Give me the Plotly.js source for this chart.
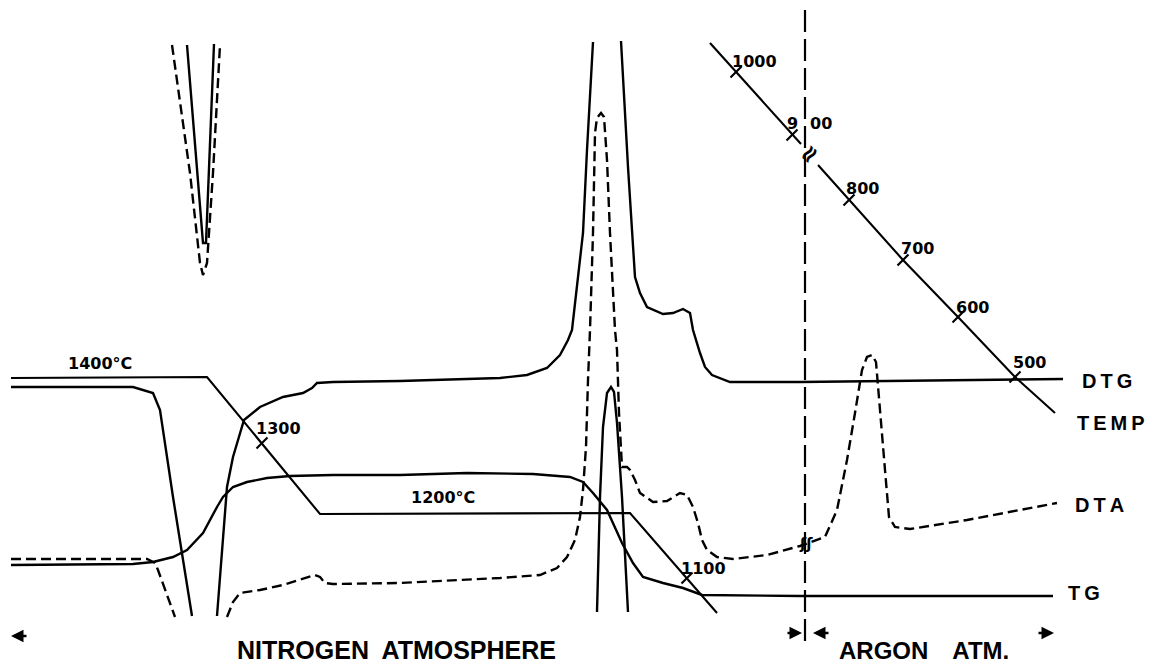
<!DOCTYPE html>
<html>
<head>
<meta charset="utf-8">
<script src="https://cdn.plot.ly/plotly-3.0.1.min.js"></script>
<style>html,body{margin:0;padding:0;background:#fff;}#chart{width:1152px;height:666px;}</style>
</head>
<body>
<div id="chart"></div>
<script>
// ---- DATA (time axis left→right, signal axis top→bottom) ----
// TG (solid)
const tgX = [11,133,153,173,187,203,217,223,233,247,267,290,333,400,467,533,570,583,593,607,622,633,643,663,683,702,800,1053];
const tgY = [565,564,562,557,550,533,507,497,487,482,478,476,475,475,473,474,477,482,493,510,543,563,577,583,588,595,596,596];

// DTG (solid), null = goes off chart
const dtgX = [11,133,153,160,173,192,null,217,227,233,244,260,283,303,312,317,333,400,500,527,547,560,568,572,580,583,587,593,null,621,628,635,640,647,663,673,683,690,693,700,705,712,730,800,1063];
const dtgY = [387,387,393,410,497,616,null,616,487,457,420,407,397,393,388,383,382,381,378,375,368,355,340,330,260,233,150,42,null,41,167,277,293,307,314,313,309,313,330,353,367,375,382,382,379];
// DTG wrapped-around spike (top left)
const dtgSpikeX = [187,203,206,214];
const dtgSpikeY = [45,243,243,44];
// Secondary sharp solid peak
const peakX = [597,600,603,607,611,614,617,622,628];
const peakY = [612,497,427,393,387,392,423,497,612];

// DTA (dashed)
const dtaX = [11,147,155,158,175,null,227,233,240,260,283,300,315,320,325,333,400,500,540,557,567,575,580,583,586,588,590,593,595,597,601,604,607,610,615,617,619,622,627,630,635,640,653,667,680,687,693,698,702,707,717,733,767,800,808,825,837,847,855,862,867,872,876,880,885,889,895,910,967,1057];
const dtaY = [559,559,563,570,617,null,617,602,593,590,585,580,575,577,583,584,583,578,575,568,557,540,517,490,447,380,330,233,133,118,113,117,160,233,330,350,413,467,467,470,480,493,502,501,493,495,507,523,540,550,557,559,555,546,543,537,510,460,413,370,357,355,362,413,470,517,527,529,520,503];
// DTA wrapped-around spike (top left)
const dtaSpikeX = [172,190,200,203,207,213,220];
const dtaSpikeY = [45,173,263,275,263,173,45];

// Temperature programme (solid), Nitrogen part
const tempNX = [11,207,320,630,717];
const tempNY = [378,377,514,513,613];
// Temperature programme, Argon part (broken line)
const tempAX = [710,736,792,801,null,818,849,903,958,1015,1055];
const tempAY = [43,72,135,144,null,165,200,260,317,377,413];

// Temperature tick marks and labels
const tickX = [262,687,736,792,849,903,958,1015];
const tickY = [443,578,72,135,200,260,317,377];
const tempLabels = ["1400°C","1300","1200°C","1100","1000","9","00","800","700","600","500"];
const tempLabelX = [100,278,443,703,754,792,821,862,917,972,1029];
const tempLabelY = [363,428,497,568,61,123,123,188,248,307,362];

// Curve names
const curveNames = ["DTG","TEMP","DTA","TG"];
const curveNameX = [1107,1111,1099,1084];
const curveNameY = [381,423,505,593];

// Atmosphere change (vertical dashed line)
const switchX = [805,805];
const switchY = [10,642];

// ---- DRAW ----
const black = '#000';
const solid = (x,y,w) => ({x:x,y:y,mode:'lines',type:'scatter',line:{color:black,width:w||2.4},connectgaps:false,hoverinfo:'skip'});
const dashed = (x,y) => ({x:x,y:y,mode:'lines',type:'scatter',line:{color:black,width:2.4,dash:'10px,5px'},connectgaps:false,hoverinfo:'skip'});

const traces = [
  solid(tgX,tgY),
  solid(dtgX,dtgY),
  solid(dtgSpikeX,dtgSpikeY),
  solid(peakX,peakY),
  dashed(dtaX,dtaY),
  dashed(dtaSpikeX,dtaSpikeY),
  solid(tempNX,tempNY,2.1),
  solid(tempAX,tempAY,2.1),
  {x:switchX,y:switchY,mode:'lines',type:'scatter',line:{color:black,width:2.2,dash:'22px,7px'},hoverinfo:'skip'},
  {x:tickX,y:tickY,mode:'markers',type:'scatter',marker:{symbol:'line-ne-open',size:11,color:black,line:{color:black,width:2.2}},hoverinfo:'skip'}
];

const sp = s => s.split('').join('\u2009');
const lab = 'Liberation Sans';
const annotations = [];
tempLabels.forEach((t,i)=>annotations.push({x:tempLabelX[i],y:tempLabelY[i],xref:'x',yref:'y',text:'<b>'+t+'</b>',showarrow:false,font:{family:'DejaVu Sans',size:16,color:black}}));
curveNames.forEach((t,i)=>annotations.push({x:curveNameX[i],y:curveNameY[i],xref:'x',yref:'y',text:'<b>'+sp(t)+'</b>',showarrow:false,font:{family:lab,size:20,color:black}}));
annotations.push({x:396,y:650,xref:'x',yref:'y',text:'<b>NITROGEN\u2002ATMOSPHERE</b>',showarrow:false,font:{family:lab,size:25,color:black}});
annotations.push({x:924,y:650,xref:'x',yref:'y',text:'<b>ARGON\u2003ATM.</b>',showarrow:false,font:{family:lab,size:24,color:black}});
// break symbols
annotations.push({x:809,y:154,xref:'x',yref:'y',text:'<b>≈</b>',textangle:-50,showarrow:false,font:{family:'DejaVu Sans',size:24,color:black}});
annotations.push({x:806,y:544,xref:'x',yref:'y',text:'<b>ʃʃ</b>',showarrow:false,font:{family:'DejaVu Sans',size:15,color:black}});
// arrows
const arrow = (x,ax,y) => ({x:x,y:y,ax:ax,ay:y,xref:'x',yref:'y',axref:'x',ayref:'y',text:'',showarrow:true,arrowhead:2,arrowsize:1,arrowwidth:2.5,arrowcolor:black});
annotations.push(arrow(11,28,636));
annotations.push(arrow(802,786,633));
annotations.push(arrow(813,830,633));
annotations.push(arrow(1054,1037,633));

const layout = {
  width:1152,height:666,
  margin:{l:0,r:0,t:0,b:0},
  paper_bgcolor:'#fff',plot_bgcolor:'#fff',
  showlegend:false,
  xaxis:{range:[0,1152],visible:false,fixedrange:true},
  yaxis:{range:[666,0],visible:false,fixedrange:true},
  annotations:annotations
};
Plotly.newPlot('chart',traces,layout,{displayModeBar:false,staticPlot:true});
</script>
</body>
</html>
